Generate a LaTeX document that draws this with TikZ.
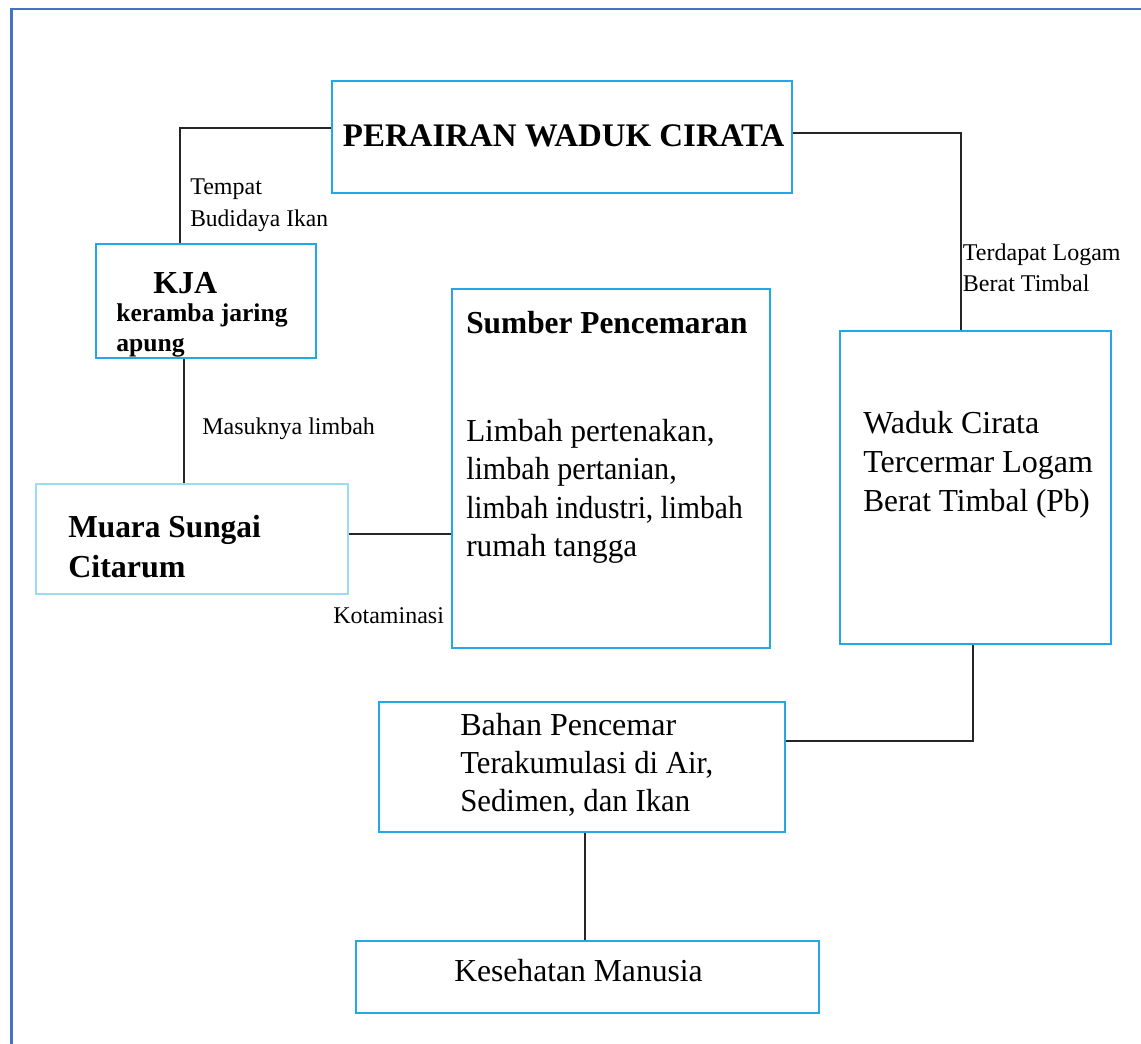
\documentclass[tikz,border=0pt]{standalone}
\usepackage{graphicx}
\usepackage{fontspec}
\setmainfont{Liberation Serif}
\usetikzlibrary{fit}
\definecolor{boxc}{HTML}{22A8E6}
\definecolor{boxl}{HTML}{9BDCF0}
\definecolor{framec}{HTML}{4472C4}
\newcommand{\hsq}[2]{\scalebox{#1}[1]{#2}}
\begin{document}
\begin{tikzpicture}[x=0.75pt,y=-0.75pt,
  box/.style={draw=boxc,line width=1.5pt,inner sep=0pt},
  lbox/.style={draw=boxl,line width=1.5pt,inner sep=0pt},
  conn/.style={draw=black!85,line width=1.5pt},
  txt/.style={anchor=base west,inner sep=0pt,font=\fontsize{24}{28}\selectfont},
  btxt/.style={anchor=base west,inner sep=0pt,font=\fontsize{24}{28}\selectfont\bfseries},
  ktxt/.style={anchor=base west,inner sep=0pt,font=\fontsize{19.2}{23}\selectfont\bfseries},
  lbl/.style={anchor=base west,inner sep=0pt,font=\fontsize{18}{22}\selectfont}]
\useasboundingbox (0,0) rectangle (1141,1044);
\draw[framec,line width=1.6pt] (11.5,1044) -- (11.5,8.7) -- (1141,8.7);

% boxes
\node[box,fit={(332.3,81) (791.7,193.3)}] (per) {};
\node[box,fit={(95.7,244) (316,358.3)}] (kja) {};
\node[lbox,fit={(36,484.3) (348.3,594)}] (muara) {};
\node[box,fit={(452.3,289.3) (770,648.3)}] (sumber) {};
\node[box,fit={(840,331) (1110.7,644.3)}] (waduk) {};
\node[box,fit={(379.3,702) (785,832.3)}] (bahan) {};
\node[box,fit={(356,940.7) (819.3,1013.3)}] (kes) {};

% texts
\node[btxt,font=\fontsize{24.7}{28}\selectfont\bfseries] (t-per) at (342.7,147) {PERAIRAN WADUK CIRATA};
\node[btxt] (t-kja) at (153,294) {KJA};
\node[ktxt] (t-ker1) at (116,322) {keramba jaring};
\node[ktxt] (t-ker2) at (116,352) {apung};
\node[btxt] (t-mu1) at (68,537) {\hsq{0.98}{Muara Sungai}};
\node[btxt] (t-mu2) at (68,577) {Citarum};
\node[btxt] (t-sum) at (466,333.3) {\hsq{0.98}{Sumber Pencemaran}};
\node[txt] (t-s1) at (466,441.5) {\hsq{0.97}{Limbah pertenakan,}};
\node[txt] (t-s2) at (466,479.5) {\hsq{0.94}{limbah pertanian,}};
\node[txt] (t-s3) at (466,518) {\hsq{0.923}{limbah industri, limbah}};
\node[txt] (t-s4) at (466,556.5) {\hsq{0.977}{rumah tangga}};
\node[txt] (t-w1) at (863,433.3) {Waduk Cirata};
\node[txt] (t-w2) at (863,472.7) {Tercermar Logam};
\node[txt] (t-w3) at (863,511.7) {\hsq{0.978}{Berat Timbal (Pb)}};
\node[txt] (t-b1) at (460,735) {Bahan Pencemar};
\node[txt] (t-b2) at (460,773.3) {\hsq{0.958}{Terakumulasi di Air,}};
\node[txt] (t-b3) at (460,811.7) {\hsq{0.962}{Sedimen, dan Ikan}};
\node[txt] (t-kes) at (454,981.7) {\hsq{0.988}{Kesehatan Manusia}};

% labels
\node[lbl] (l-tem1) at (190,194.3) {Tempat};
\node[lbl] (l-tem2) at (190,226.7) {\hsq{0.98}{Budidaya Ikan}};
\node[lbl] (l-ter1) at (962.7,261) {Terdapat Logam};
\node[lbl] (l-ter2) at (962.7,291.7) {Berat Timbal};
\node[lbl] (l-mas) at (202,434) {Masuknya limbah};
\node[lbl] (l-kot) at (333,623) {Kotaminasi};

% connectors
\coordinate (c1) at (179.5,128.3);
\coordinate (c2) at (961,133.3);
\coordinate (c3) at (972.7,740.5);
\draw[conn] (per.west |- c1) -- (c1) -- (c1 |- kja.north);
\draw[conn] (kja.south -| 183.5,0) -- (muara.north -| 183.5,0);
\draw[conn] (muara.east |- 0,534.3) -- (sumber.west |- 0,534.3);
\draw[conn] (per.east |- c2) -- (c2) -- (c2 |- waduk.north);
\draw[conn] (waduk.south -| c3) -- (c3) -- (bahan.east |- c3);
\draw[conn] (bahan.south -| 584.7,0) -- (kes.north -| 584.7,0);
\end{tikzpicture}
\end{document}
